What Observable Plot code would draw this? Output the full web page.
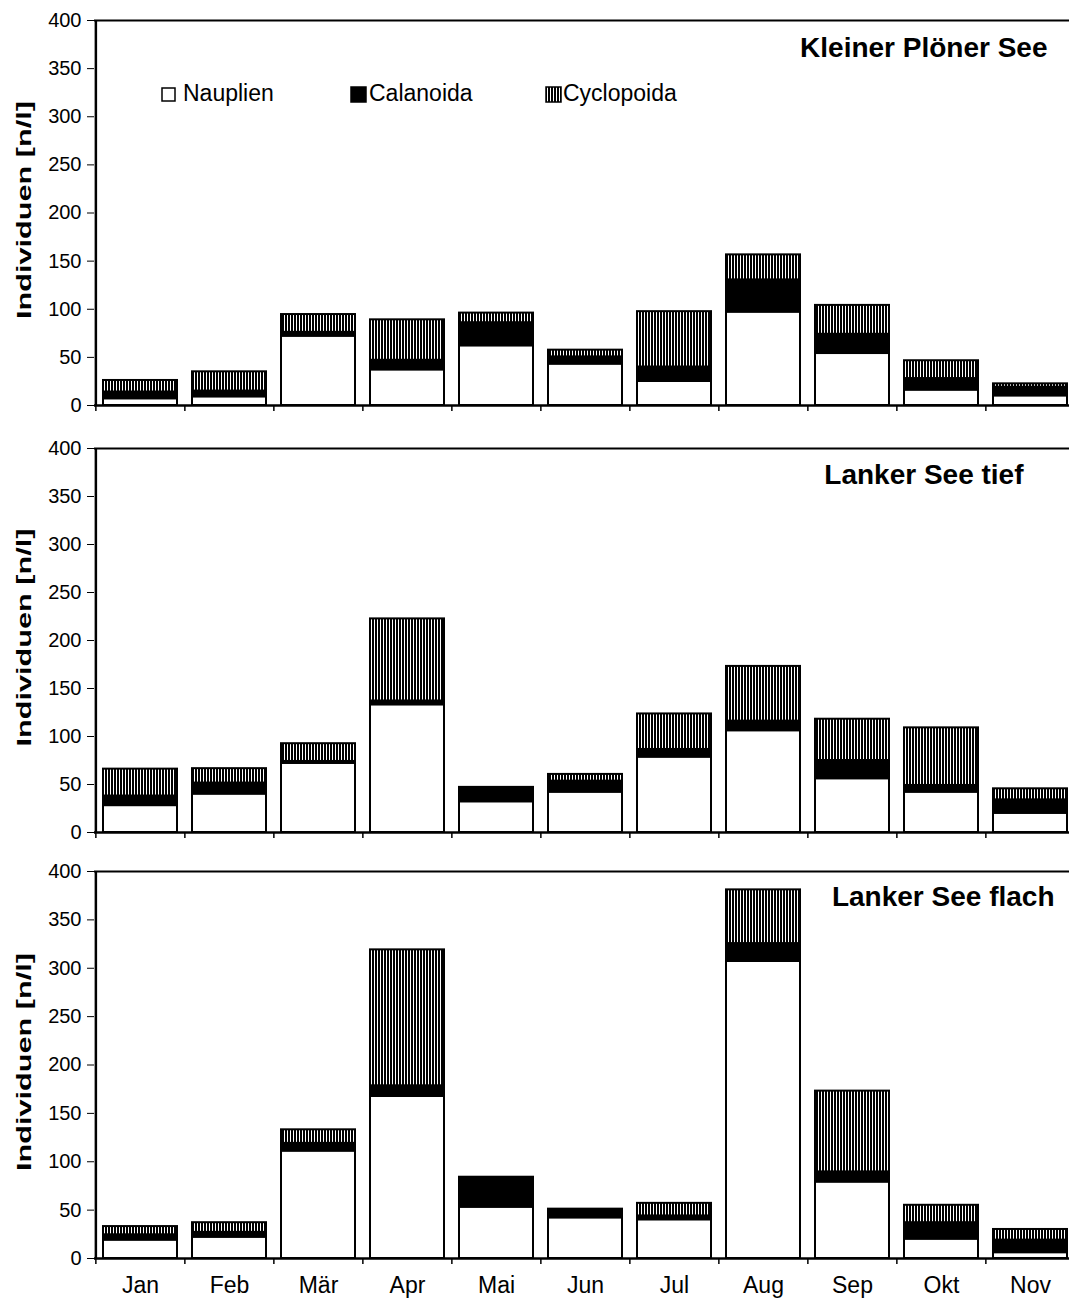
<!DOCTYPE html>
<html>
<head>
<meta charset="utf-8">
<script src="https://cdn.jsdelivr.net/npm/d3@7"></script>
<script src="https://cdn.jsdelivr.net/npm/@observablehq/plot@0.6"></script>
<style>
  html, body { margin: 0; padding: 0; background: white; overflow: hidden; }
  #chart { position: relative; width: 1069px; height: 1303px; font-family: "Liberation Sans", Arial, sans-serif; }
  #chart svg.panel { display: block; }
  #legend { position: absolute; top: 80px; left: 0; width: 1069px; height: 26px; font-size: 23px; color: black; }
  #legend .item svg { position: absolute; }
  #legend .item span { position: absolute; top: 0; white-space: nowrap; line-height: 26px; }
</style>
</head>
<body>
<svg width="0" height="0" style="position:absolute">
  <defs>
    <pattern id="hatch" width="3" height="3" patternUnits="userSpaceOnUse">
      <rect width="3" height="3" fill="white"></rect>
      <rect width="2" height="3" fill="black"></rect>
    </pattern>
  </defs>
</svg>
<div id="chart">
  <div id="legend"></div>
</div>
<script>
// ---- data ----
const months = ["Jan", "Feb", "Mär", "Apr", "Mai", "Jun", "Jul", "Aug", "Sep", "Okt", "Nov"];
const groups = ["Nauplien", "Calanoida", "Cyclopoida"];
const yTicks = [0, 50, 100, 150, 200, 250, 300, 350, 400];
const lakes = ["Kleiner Plöner See", "Lanker See tief", "Lanker See flach"];
const yTitle = "Individuen [n/l]";

const kpsNauplien   = [7, 9, 72, 37, 62, 43, 25, 97, 54, 16, 10];
const kpsCalanoida  = [7, 6, 4, 10, 24, 7.5, 15, 33.5, 20, 12, 9];
const kpsCyclopoida = [12, 20, 18.5, 42, 10, 7, 57.5, 26, 30, 18.5, 3.5];

const ltNauplien   = [28, 40, 72, 133, 32, 42, 78.5, 106, 56, 42, 20];
const ltCalanoida  = [10, 11.5, 2, 4, 13.5, 11.5, 8, 10, 19, 7, 14];
const ltCyclopoida = [28, 15, 18.5, 85.5, 1.5, 7, 37, 57, 43, 60, 11.5];

const lfNauplien   = [19, 22, 111, 167.5, 53, 42, 40, 307, 79, 20, 6];
const lfCalanoida  = [5.5, 5, 8, 11, 29, 7, 4, 18.5, 10.5, 17, 13];
const lfCyclopoida = [8.5, 10, 14, 140.5, 2, 2, 13, 55.5, 83.5, 18, 11];

const seriesByLake = [
  [kpsNauplien, kpsCalanoida, kpsCyclopoida],
  [ltNauplien, ltCalanoida, ltCyclopoida],
  [lfNauplien, lfCalanoida, lfCyclopoida]
];
const fills = ["white", "black", "url(#hatch)"];

// ---- layout ----
const W = 1069;
const xRange = [94, 1076];
const step = (xRange[1] - xRange[0]) / months.length;
const panels = [
  {height: 427, marginTop: 20, marginBottom: 22, titleDx: -22, titleDy: 28, showX: false},
  {height: 427, marginTop: 21, marginBottom: 22, titleDx: -46, titleDy: 27, showX: false},
  {height: 449, marginTop: 17, marginBottom: 45, titleDx: -15, titleDy: 26, showX: true}
];

const chart = document.getElementById("chart");

panels.forEach((p, li) => {
  const rows = [];
  months.forEach((m, mi) => {
    groups.forEach((g, gi) => {
      rows.push({month: m, group: g, value: seriesByLake[li][gi][mi]});
    });
  });
  const frameH = p.height - p.marginTop - p.marginBottom;
  const marks = [
    Plot.barY(rows, {x: "month", y: "value", fill: "group", stroke: "black", strokeWidth: 2}),
    Plot.ruleY([0], {stroke: "black", strokeWidth: 2.5}),
    Plot.ruleY([400], {stroke: "black", strokeWidth: 2}),
    Plot.ruleX(months.slice(0, 1), {dx: -step / 2, stroke: "black", strokeWidth: 2.5}),
    Plot.ruleX(months, {dx: -step / 2, insetTop: frameH, insetBottom: -6, stroke: "black", strokeWidth: 1.5}),
    Plot.text([lakes[li]], {frameAnchor: "top-right", textAnchor: "end", lineAnchor: "middle", dx: p.titleDx, dy: p.titleDy, fontSize: 28, fontWeight: "bold"}),
    Plot.text([yTitle], {frameAnchor: "left", textAnchor: "middle", lineAnchor: "middle", rotate: -90, dx: -70, dy: -3, fontSize: 20, fontWeight: "bold"})
  ];
  if (p.showX) {
    marks.push(Plot.text(months, {x: d => d, frameAnchor: "bottom", lineAnchor: "top", dy: 18, fontSize: 23}));
  }
  const plot = Plot.plot({
    width: W,
    height: p.height,
    marginLeft: 94,
    marginRight: 0,
    marginTop: p.marginTop,
    marginBottom: p.marginBottom,
    style: {background: "white", color: "black", fontFamily: "'Liberation Sans', Arial, sans-serif", fontSize: "20px", overflow: "visible"},
    x: {domain: months, range: xRange, paddingInner: 0.168, paddingOuter: 0.084, axis: null},
    y: {domain: [0, 400], ticks: yTicks, tickSize: 7, tickPadding: 6, label: null},
    color: {domain: groups, range: fills},
    marks
  });
  plot.classList.add("panel");
  // stretch the rotated axis title along its length, as in the original
  d3.select(plot).selectAll("text")
    .filter(function () { return this.textContent === yTitle; })
    .attr("textLength", 218)
    .attr("lengthAdjust", "spacingAndGlyphs");
  chart.appendChild(plot);
});

// ---- legend (inside first panel) ----
const legend = document.getElementById("legend");
const swatchX = [161, 350, 545];
const textX = [183, 369, 563];
const swatchSize = [13, 15, 15];
groups.forEach((g, i) => {
  const item = document.createElement("div");
  item.className = "item";
  const s = swatchSize[i];
  item.innerHTML = `<svg width="${s + 2}" height="${s + 2}" style="left:${swatchX[i]}px;top:${13 - s / 2}px"><rect x="1" y="1" width="${s}" height="${s}" fill="${fills[i]}" stroke="black" stroke-width="1.5"></rect></svg><span style="left:${textX[i]}px">${g}</span>`;
  legend.appendChild(item);
});
</script>
</body>
</html>
